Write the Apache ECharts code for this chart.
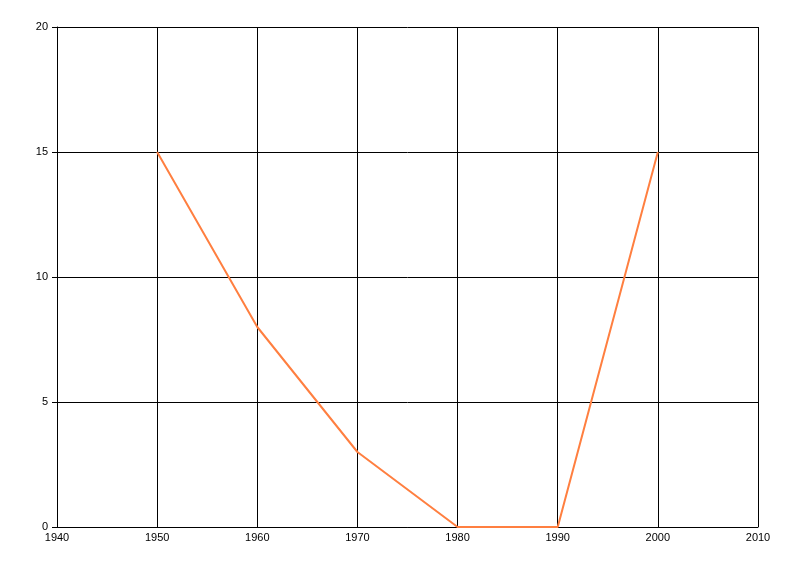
<!DOCTYPE html>
<html>
<head>
    <meta charset="utf-8">
    <title>Line Chart</title>
    <script src="https://cdn.jsdelivr.net/npm/echarts@6/dist/echarts.min.js"></script>
    <style>
        html, body { margin: 0; padding: 0; background: #fff; }
        #chart { width: 800px; height: 576px; }
    </style>
</head>
<body>
<div id="chart"></div>
<script>
    var years = [1950, 1960, 1970, 1980, 1990, 2000];
    var values = [15, 8, 3, 0, 0, 15];

    var chart = echarts.init(document.getElementById('chart'));
    var option = {
        animation: false,
        grid: {
            left: 57,
            right: 42,
            top: 27,
            bottom: 49
        },
        xAxis: {
            type: 'value',
            min: 1940,
            max: 2010,
            interval: 10,
            axisLine: { lineStyle: { color: '#000', width: 1 } },
            axisTick: { show: false },
            axisLabel: {
                color: '#000',
                fontFamily: 'Liberation Sans, sans-serif',
                fontSize: 11,
                margin: 5,
                formatter: function (v) { return String(v); }
            },
            splitLine: { show: true, lineStyle: { color: '#000', width: 1 } }
        },
        yAxis: {
            type: 'value',
            min: 0,
            max: 20,
            interval: 5,
            axisLine: { show: true, lineStyle: { color: '#000', width: 1 } },
            axisTick: { show: true, length: 5, lineStyle: { color: '#000' } },
            axisLabel: {
                color: '#000',
                fontFamily: 'Liberation Sans, sans-serif',
                fontSize: 11,
                margin: 9
            },
            splitLine: { show: true, lineStyle: { color: '#000', width: 1 } }
        },
        series: [{
            type: 'line',
            data: years.map(function (y, i) { return [y, values[i]]; }),
            symbol: 'none',
            lineStyle: { color: '#ff7f40', width: 2 }
        }]
    };
    chart.setOption(option);
</script>
</body>
</html>
